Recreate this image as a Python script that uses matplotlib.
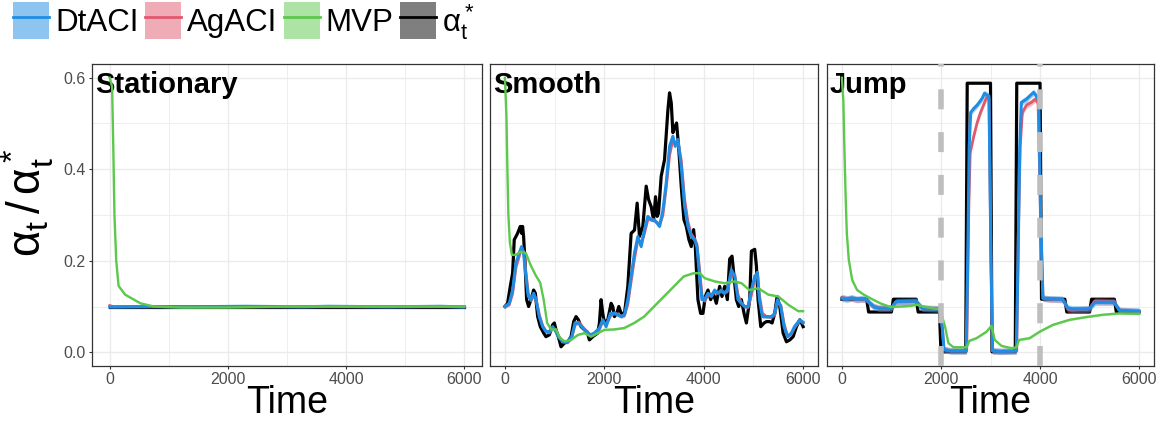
import matplotlib
matplotlib.use('Agg')
import matplotlib.pyplot as plt
from matplotlib.patches import Patch
from matplotlib.lines import Line2D
from matplotlib.legend_handler import HandlerTuple
from matplotlib.ticker import MultipleLocator

plt.rcParams['font.family'] = ['Liberation Sans', 'DejaVu Sans']
plt.rcParams['mathtext.fontset'] = 'custom'
plt.rcParams['mathtext.rm'] = 'Liberation Sans'
plt.rcParams['mathtext.it'] = 'Liberation Sans:italic'

# ─── Data ─────────────────────────────────────────────────────────────────────

PANELS = ['Stationary', 'Smooth', 'Jump']
SERIES = ['DtACI', 'AgACI', 'MVP', r'$\mathrm{\alpha_t^*}$']
X_TICKS = [0, 2000, 4000, 6000]
Y_TICKS = [0.0, 0.2, 0.4, 0.6]
JUMP_MARKS = [2000, 4000]

# Stationary
stat_black_t = [0, 6000]
stat_black_v = [0.1, 0.1]
stat_blue_t = [0, 300, 800, 1300, 1800, 2300, 2800, 3300, 3700, 4200, 4700, 5200, 5600, 6000]
stat_blue_v = [0.099, 0.0995, 0.1, 0.0995, 0.1, 0.1005, 0.1, 0.0995, 0.1005, 0.1, 0.0995, 0.1, 0.1005, 0.099]
stat_red_t = [0, 60, 300, 1000, 2000, 3000, 4000, 5000, 6000]
stat_red_v = [0.102, 0.1, 0.1, 0.1, 0.1, 0.1, 0.1, 0.1, 0.1]
stat_green_t = [0, 40, 60, 80, 110, 150, 260, 520, 750, 1200, 2000, 3000, 6000]
stat_green_v = [0.6, 0.58, 0.45, 0.3, 0.2, 0.145, 0.126, 0.107, 0.1, 0.098, 0.098, 0.1, 0.1]

# Smooth
smooth_black_t = [0, 54, 108, 155, 188, 222, 255, 309, 336, 356, 376, 403, 437, 477, 524, 578,
                  612, 659, 712, 780, 826, 894, 961, 995, 1028, 1075, 1129, 1196, 1263, 1331,
                  1384, 1431, 1478, 1532, 1600, 1653, 1700, 1767, 1868, 1902, 1935, 1969, 2003,
                  2070, 2137, 2170, 2204, 2251, 2292, 2339, 2406, 2473, 2540, 2608, 2661, 2708,
                  2775, 2843, 2890, 2944, 2991, 3031, 3064, 3091, 3145, 3212, 3280, 3313, 3347,
                  3380, 3427, 3454, 3495, 3548, 3602, 3650, 3703, 3750, 3797, 3831, 3884, 3938,
                  3985, 4032, 4086, 4140, 4194, 4254, 4321, 4368, 4422, 4476, 4523, 4570, 4610,
                  4657, 4704, 4758, 4812, 4859, 4926, 4960, 5027, 5061, 5094, 5148, 5215, 5262,
                  5329, 5376, 5430, 5477, 5531, 5598, 5665, 5732, 5799, 5867, 5934, 5968, 6000]
smooth_black_v = [0.1, 0.107, 0.144, 0.173, 0.246, 0.253, 0.26, 0.275, 0.26, 0.275, 0.253, 0.2,
                  0.115, 0.1, 0.115, 0.136, 0.129, 0.078, 0.056, 0.042, 0.034, 0.038, 0.06, 0.064,
                  0.049, 0.034, 0.012, 0.02, 0.023, 0.034, 0.067, 0.078, 0.071, 0.056, 0.049,
                  0.045, 0.027, 0.034, 0.042, 0.064, 0.115, 0.085, 0.064, 0.071, 0.107, 0.1,
                  0.078, 0.085, 0.1, 0.085, 0.085, 0.144, 0.26, 0.267, 0.326, 0.253, 0.275,
                  0.363, 0.334, 0.318, 0.289, 0.34, 0.297, 0.304, 0.385, 0.421, 0.53, 0.567,
                  0.545, 0.48, 0.494, 0.501, 0.45, 0.363, 0.29, 0.275, 0.246, 0.231, 0.268,
                  0.231, 0.115, 0.085, 0.085, 0.122, 0.136, 0.115, 0.129, 0.107, 0.144, 0.122,
                  0.144, 0.115, 0.204, 0.21, 0.166, 0.115, 0.1, 0.115, 0.085, 0.064, 0.115,
                  0.221, 0.225, 0.188, 0.115, 0.056, 0.064, 0.067, 0.067, 0.064, 0.085, 0.122,
                  0.1, 0.042, 0.023, 0.027, 0.034, 0.056, 0.071, 0.064, 0.056]
smooth_blue_t = [0, 87, 155, 222, 289, 336, 376, 423, 470, 524, 578, 625, 692, 759, 826, 894,
                 961, 1008, 1075, 1162, 1263, 1344, 1411, 1478, 1545, 1633, 1720, 1800, 1902,
                 1969, 2036, 2124, 2204, 2271, 2339, 2406, 2473, 2540, 2608, 2675, 2742, 2809,
                 2876, 2944, 3010, 3064, 3111, 3179, 3246, 3313, 3380, 3427, 3481, 3548, 3615,
                 3683, 3750, 3817, 3864, 3918, 3965, 4019, 4086, 4153, 4220, 4287, 4355, 4408,
                 4476, 4557, 4624, 4691, 4758, 4825, 4892, 4960, 5027, 5081, 5121, 5181, 5262,
                 5363, 5430, 5484, 5551, 5618, 5685, 5765, 5827, 5934, 6000]
smooth_blue_v = [0.1, 0.107, 0.136, 0.195, 0.217, 0.231, 0.217, 0.166, 0.122, 0.115, 0.129,
                 0.115, 0.078, 0.056, 0.045, 0.045, 0.056, 0.049, 0.034, 0.023, 0.023, 0.034,
                 0.064, 0.064, 0.056, 0.045, 0.038, 0.042, 0.053, 0.071, 0.056, 0.085, 0.085,
                 0.082, 0.078, 0.082, 0.115, 0.166, 0.217, 0.253, 0.231, 0.268, 0.297, 0.289,
                 0.289, 0.282, 0.275, 0.31, 0.37, 0.45, 0.472, 0.45, 0.465, 0.407, 0.32, 0.275,
                 0.253, 0.246, 0.231, 0.166, 0.115, 0.115, 0.129, 0.122, 0.136, 0.129, 0.136,
                 0.129, 0.136, 0.18, 0.166, 0.115, 0.107, 0.1, 0.1, 0.136, 0.166, 0.173, 0.115,
                 0.078, 0.078, 0.078, 0.085, 0.115, 0.1, 0.056, 0.034, 0.042, 0.056, 0.071,
                 0.064]
smooth_red_t = [0, 87, 155, 222, 289, 336, 376, 423, 470, 524, 578, 625, 692, 759, 826, 894,
                961, 1008, 1075, 1162, 1263, 1344, 1411, 1478, 1545, 1633, 1720, 1800, 1902,
                1969, 2036, 2124, 2204, 2271, 2339, 2406, 2473, 2540, 2608, 2675, 2742, 2809,
                2876, 2944, 3010, 3064, 3111, 3179, 3246, 3313, 3380, 3427, 3481, 3548, 3615,
                3683, 3750, 3817, 3864, 3918, 3965, 4019, 4086, 4153, 4220, 4287, 4355, 4408,
                4476, 4557, 4624, 4691, 4758, 4825, 4892, 4960, 5027, 5081, 5121, 5181, 5262,
                5363, 5430, 5484, 5551, 5618, 5685, 5765, 5827, 5934, 6000]
smooth_red_v = [0.1, 0.104, 0.128, 0.185, 0.21, 0.228, 0.22, 0.175, 0.128, 0.113, 0.124,
                0.118, 0.082, 0.058, 0.046, 0.043, 0.053, 0.05, 0.036, 0.024, 0.022, 0.031,
                0.06, 0.066, 0.058, 0.047, 0.038, 0.04, 0.05, 0.068, 0.06, 0.08, 0.086,
                0.083, 0.079, 0.08, 0.105, 0.155, 0.205, 0.245, 0.238, 0.26, 0.29, 0.292,
                0.287, 0.284, 0.277, 0.3, 0.36, 0.43, 0.465, 0.455, 0.46, 0.42, 0.335, 0.285,
                0.258, 0.248, 0.236, 0.18, 0.125, 0.112, 0.125, 0.124, 0.132, 0.13, 0.134,
                0.13, 0.133, 0.17, 0.17, 0.125, 0.108, 0.1, 0.098, 0.125, 0.16, 0.175, 0.125,
                0.085, 0.078, 0.077, 0.082, 0.108, 0.103, 0.062, 0.036, 0.04, 0.054, 0.07,
                0.066]
smooth_green_t = [0, 30, 50, 70, 100, 140, 220, 320, 420, 520, 620, 710, 780, 850, 930, 1030,
                  1110, 1200, 1330, 1470, 1600, 1730, 1870, 2000, 2200, 2400, 2600, 2800, 3000,
                  3200, 3400, 3600, 3800, 3920, 4020, 4220, 4420, 4620, 4760, 4920, 5100, 5300,
                  5500, 5700, 5900, 6000]
smooth_green_v = [0.6, 0.52, 0.4, 0.3, 0.24, 0.213, 0.213, 0.22, 0.217, 0.19, 0.168, 0.152,
                  0.115, 0.064, 0.05, 0.05, 0.031, 0.024, 0.027, 0.038, 0.042, 0.034, 0.042,
                  0.049, 0.05, 0.053, 0.064, 0.078, 0.1, 0.122, 0.144, 0.166, 0.173, 0.173,
                  0.162, 0.155, 0.151, 0.155, 0.151, 0.136, 0.14, 0.126, 0.122, 0.104, 0.09,
                  0.09]

# Jump
jump_black_t = [0, 500, 540, 1000, 1040, 1500, 1540, 1970, 2000, 2500, 2530, 3000, 3030, 3500,
                3530, 4000, 4030, 4500, 4540, 5000, 5040, 5500, 5540, 6000]
jump_black_v = [0.116, 0.116, 0.088, 0.088, 0.116, 0.116, 0.088, 0.088, 0.001, 0.001, 0.588,
                0.588, 0.001, 0.001, 0.588, 0.588, 0.116, 0.116, 0.088, 0.088, 0.116, 0.116,
                0.088, 0.088]
jump_blue_t = [0, 100, 200, 300, 400, 500, 560, 650, 750, 1000, 1050, 1100, 1500, 1550, 1620,
               1990, 2030, 2060, 2200, 2510, 2540, 2570, 2600, 2664, 2731, 2832, 2879, 2930,
               2970, 3010, 3040, 3200, 3520, 3556, 3590, 3623, 3724, 3791, 3871, 3925, 3975,
               4010, 4059, 4200, 4450, 4500, 4560, 4650, 5000, 5050, 5110, 5500, 5550, 5610,
               6000]
jump_blue_v = [0.118, 0.116, 0.119, 0.116, 0.117, 0.116, 0.108, 0.099, 0.096, 0.096, 0.105,
               0.111, 0.112, 0.105, 0.096, 0.094, 0.05, 0.006, 0.003, 0.003, 0.2, 0.45, 0.524,
               0.533, 0.54, 0.555, 0.566, 0.562, 0.56, 0.2, 0.003, 0.002, 0.003, 0.2, 0.45,
               0.546, 0.553, 0.56, 0.568, 0.56, 0.55, 0.3, 0.118, 0.117, 0.116, 0.108, 0.097,
               0.095, 0.095, 0.102, 0.109, 0.109, 0.1, 0.091, 0.09]
jump_red_t = [0, 100, 200, 300, 400, 500, 560, 650, 750, 1000, 1050, 1100, 1500, 1550, 1620,
              1990, 2030, 2060, 2200, 2520, 2543, 2564, 2590, 2664, 2731, 2798, 2879, 2919,
              2970, 3010, 3040, 3200, 3530, 3560, 3600, 3643, 3724, 3825, 3900, 3960, 4010,
              4059, 4200, 4450, 4500, 4560, 4650, 5000, 5050, 5110, 5500, 5550, 5610, 6000]
jump_red_v = [0.12, 0.117, 0.118, 0.115, 0.116, 0.115, 0.107, 0.1, 0.097, 0.097, 0.104,
              0.11, 0.111, 0.104, 0.097, 0.095, 0.05, 0.006, 0.003, 0.003, 0.181, 0.327,
              0.436, 0.473, 0.502, 0.524, 0.546, 0.557, 0.555, 0.2, 0.003, 0.002, 0.003,
              0.25, 0.45, 0.524, 0.54, 0.546, 0.553, 0.545, 0.3, 0.118, 0.116, 0.115, 0.107,
              0.094, 0.092, 0.095, 0.104, 0.112, 0.111, 0.1, 0.092, 0.089]
jump_green_t = [0, 30, 50, 74, 100, 140, 208, 308, 442, 576, 777, 978, 1179, 1380, 1514, 1648,
                1849, 1982, 2083, 2150, 2250, 2518, 2572, 2720, 2920, 3020, 3087, 3222, 3423,
                3523, 3577, 3791, 3992, 4260, 4595, 4930, 5265, 5600, 6000]
jump_green_v = [0.6, 0.55, 0.45, 0.348, 0.26, 0.202, 0.158, 0.136, 0.126, 0.118, 0.107, 0.099,
                0.1, 0.1015, 0.104, 0.1, 0.096, 0.094, 0.056, 0.02, 0.011, 0.011, 0.025, 0.031,
                0.045, 0.058, 0.027, 0.014, 0.009, 0.011, 0.027, 0.031, 0.045, 0.06, 0.071,
                0.077, 0.082, 0.085, 0.084]

# ─── Style ────────────────────────────────────────────────────────────────────

COLORS = {'blue': '#1F8DE3', 'red': '#E05A6E', 'green': '#5CC84C', 'black': '#000000'}
RIBBON = {'Stationary': 0.003, 'Smooth': 0.004, 'Jump': 0.007}
GREEN_RIBBON = 0.002
GRID = '#EBEBEB'
TICK_COLOR = '#4D4D4D'
SPINE = '#333333'

W, H = 1163, 421
AX_BOXES = [(92, 482), (490, 818), (827, 1154)]  # pixel left/right
AX_TOP, AX_BOTTOM = 64, 366

DATA = {
    'Stationary': {'black': (stat_black_t, stat_black_v), 'red': (stat_red_t, stat_red_v),
                   'blue': (stat_blue_t, stat_blue_v), 'green': (stat_green_t, stat_green_v)},
    'Smooth': {'black': (smooth_black_t, smooth_black_v), 'red': (smooth_red_t, smooth_red_v),
               'blue': (smooth_blue_t, smooth_blue_v), 'green': (smooth_green_t, smooth_green_v)},
    'Jump': {'black': (jump_black_t, jump_black_v), 'red': (jump_red_t, jump_red_v),
             'blue': (jump_blue_t, jump_blue_v), 'green': (jump_green_t, jump_green_v)},
}
LINE_W = {'black': 2.3, 'red': 2.0, 'blue': 2.2, 'green': 1.7}


def style_axes(ax, first):
    ax.set_xlim(-300, 6300)
    ax.set_ylim(-0.03, 0.63)
    ax.set_xticks(X_TICKS)
    ax.set_yticks(Y_TICKS)
    ax.xaxis.set_minor_locator(MultipleLocator(1000))
    ax.yaxis.set_minor_locator(MultipleLocator(0.1))
    ax.grid(which='major', color=GRID, lw=1.0, zorder=0)
    ax.grid(which='minor', color=GRID, lw=0.6, zorder=0)
    ax.set_axisbelow(True)
    ax.tick_params(which='major', length=2.5, width=0.8, color=SPINE, labelsize=11.5,
                   labelcolor=TICK_COLOR, pad=2)
    ax.tick_params(which='minor', length=0)
    if first:
        ax.set_yticklabels([f'{v:.1f}' for v in Y_TICKS])
    else:
        ax.tick_params(axis='y', which='major', length=0, labelleft=False)
    for s in ax.spines.values():
        s.set_color(SPINE)
        s.set_linewidth(0.9)


fig = plt.figure(figsize=(W / 100, H / 100), dpi=100)

for i, name in enumerate(PANELS):
    l, r = AX_BOXES[i]
    ax = fig.add_axes([l / W, 1 - AX_BOTTOM / H, (r - l) / W, (AX_BOTTOM - AX_TOP) / H])
    style_axes(ax, i == 0)
    for z, key in enumerate(['black', 'red', 'blue', 'green']):
        t, v = DATA[name][key]
        hw = GREEN_RIBBON if key == 'green' else RIBBON[name]
        if key != 'black':
            ax.fill_between(t, [y - hw for y in v], [y + hw for y in v],
                            color=COLORS[key], alpha=0.4, lw=0, zorder=2 + z)
        ax.plot(t, v, color=COLORS[key], lw=LINE_W[key], zorder=3 + z,
                solid_joinstyle='round')
    if name == 'Jump':
        for xm in JUMP_MARKS:
            ax.axvline(xm, color='#BEBEBE', lw=4, dashes=(3.6, 4.1),
                       dash_capstyle='butt', zorder=10)
    ax.annotate(name, xy=(0, 1), xycoords='axes fraction', xytext=(3, -7),
                textcoords='offset pixels', ha='left', va='top',
                fontsize=21, fontweight='bold', zorder=1.5)
    fig.text((l + r) / 2 / W, 1 - 413 / H, 'Time', ha='center', va='baseline', fontsize=27)

fig.text(28 / W, 218 / H, r'$\mathrm{\alpha_t\,/\,\alpha_t^*}$', rotation=90,
         ha='center', va='center', fontsize=33)

# ─── Legend ───────────────────────────────────────────────────────────────────

handles = []
for key in ['blue', 'red', 'green', 'black']:
    patch = Patch(facecolor=COLORS[key], alpha=0.5, edgecolor='none')
    line = Line2D([], [], color=COLORS[key], lw=2.0)
    handles.append((patch, line))

fs = 22.5
em = fs * 100 / 72
fig.legend(handles, SERIES, handler_map={tuple: HandlerTuple(ndivide=1)},
           loc='upper left', bbox_to_anchor=(13 / W, 1 - 2 / H), ncol=4, frameon=False,
           borderpad=0, borderaxespad=0, fontsize=fs, handlelength=36 / em,
           handleheight=45 / em, handletextpad=0.2, columnspacing=0.2)

fig.savefig('out.png', dpi=100)
